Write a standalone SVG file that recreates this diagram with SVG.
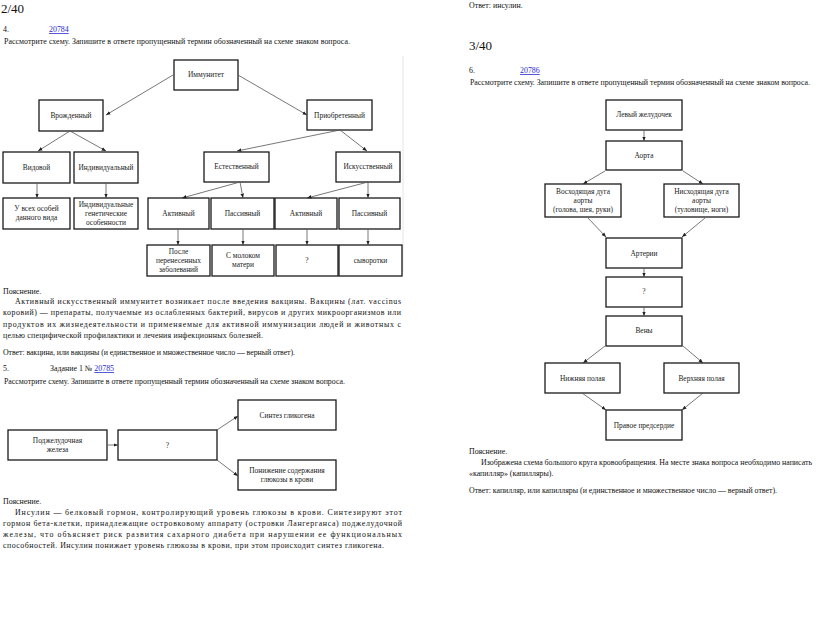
<svg xmlns="http://www.w3.org/2000/svg" width="816" height="629" viewBox="0 0 816 629">
<style>
text{font-family:"Liberation Serif","DejaVu Serif",serif;fill:#111}
.p{font-size:7.9px}
.h{font-size:13px}
.lnk{fill:#2a2ad0;text-decoration:underline}
.n rect{fill:#fff;stroke:#1a1a1a;stroke-width:1.3}
.n text{font-size:7.4px;text-anchor:middle;fill:#222}
.c path{fill:none;stroke:#555;stroke-width:0.8;marker-end:url(#ah)}
</style>
<defs>
<marker id="ah" viewBox="0 0 8 8" refX="8" refY="4" markerWidth="4.5" markerHeight="4.5" markerUnits="userSpaceOnUse" orient="auto"><path d="M0,0.8 L8,4 L0,7.2 z" fill="#222"/></marker>
</defs>
<rect width="816" height="629" fill="#fff"/>

<!-- Left column text -->
<text class="h" x="1" y="13">2/40</text>
<text class="p" x="3" y="32">4.</text>
<text class="p lnk" x="49" y="32">20784</text>
<text class="p" x="4" y="44" textLength="346" lengthAdjust="spacing">Рассмотрите схему. Запишите в ответе пропущенный термин обозначенный на схеме знаком вопроса.</text>
<line x1="403" y1="56" x2="403" y2="272" stroke="#e6e6e6" stroke-width="1"/>

<!-- Diagram 1 -->
<g id="n-immunitet" class="n"><rect x="174" y="60" width="64" height="30"/><text x="206" y="77">Иммунитет</text></g>
<g id="n-vrozhd" class="n"><rect x="39" y="100" width="64" height="31"/><text x="71" y="118">Врожденный</text></g>
<g id="n-priobr" class="n"><rect x="307" y="100" width="65" height="30"/><text x="339.5" y="118">Приобретенный</text></g>
<g id="n-vidovoy" class="n"><rect x="3" y="152" width="67" height="31"/><text x="36.5" y="170">Видовой</text></g>
<g id="n-individ" class="n"><rect x="74" y="152" width="64" height="31"/><text x="106" y="170">Индивидуальный</text></g>
<g id="n-estestv" class="n"><rect x="204" y="152" width="65" height="30"/><text x="236.5" y="169">Естественный</text></g>
<g id="n-iskusst" class="n"><rect x="336" y="152" width="64" height="30"/><text x="368" y="169">Искусственный</text></g>
<g id="n-vse" class="n"><rect x="3" y="198" width="67" height="31"/><text x="36.5" y="211">У всех особей</text><text x="36.5" y="220">данного вида</text></g>
<g id="n-genet" class="n"><rect x="74" y="198" width="64" height="31"/><text x="106" y="207">Индивидуальные</text><text x="106" y="216">генетические</text><text x="106" y="225">особенности</text></g>
<g id="n-akt1" class="n"><rect x="148" y="198" width="61" height="31"/><text x="178.5" y="216">Активный</text></g>
<g id="n-pas1" class="n"><rect x="211" y="198" width="63" height="31"/><text x="242.5" y="216">Пассивный</text></g>
<g id="n-akt2" class="n"><rect x="275" y="198" width="62" height="31"/><text x="306" y="216">Активный</text></g>
<g id="n-pas2" class="n"><rect x="339" y="198" width="61" height="31"/><text x="369.5" y="216">Пассивный</text></g>
<g id="n-posle" class="n"><rect x="147" y="245" width="63" height="31"/><text x="178.5" y="254">После</text><text x="178.5" y="263">перенесенных</text><text x="178.5" y="272">заболеваний</text></g>
<g id="n-moloko" class="n"><rect x="212" y="245" width="62" height="31"/><text x="243" y="258">С молоком</text><text x="243" y="267">матери</text></g>
<g id="n-q1" class="n"><rect x="276" y="245" width="62" height="31"/><text x="307" y="263">?</text></g>
<g id="n-syv" class="n"><rect x="339" y="245" width="63" height="31"/><text x="370.5" y="263">сыворотки</text></g>

<text class="p" x="3" y="294">Пояснение.</text>
<text class="p" x="15" y="304" textLength="386" lengthAdjust="spacing">Активный искусственный иммунитет возникает после введения вакцины. Вакцины (лат. vaccinus</text>
<text class="p" x="3" y="315" textLength="398" lengthAdjust="spacing">коровий) — препараты, получаемые из ослабленных бактерий, вирусов и других микроорганизмов или</text>
<text class="p" x="3" y="327" textLength="398" lengthAdjust="spacing">продуктов их жизнедеятельности и применяемые для активной иммунизации людей и животных с</text>
<text class="p" x="3" y="338" textLength="260" lengthAdjust="spacing">целью специфической профилактики и лечения инфекционных болезней.</text>
<text class="p" x="3" y="355" textLength="292" lengthAdjust="spacing">Ответ: вакцина, или вакцины (и единственное и множественное число — верный ответ).</text>

<text class="p" x="3" y="371">5.</text>
<text class="p" x="50" y="371">Задание 1 № <tspan class="lnk">20785</tspan></text>
<text class="p" x="4" y="384" textLength="341" lengthAdjust="spacing">Рассмотрите схему. Запишите в ответе пропущенный термин обозначенный на схеме знаком вопроса.</text>

<!-- Diagram 2 -->
<g id="n-sintez" class="n"><rect x="238" y="400" width="98" height="30"/><text x="287" y="418">Синтез гликогена</text></g>
<g id="n-podzh" class="n"><rect x="8" y="430" width="99" height="30"/><text x="57.5" y="443">Поджелудочная</text><text x="57.5" y="452">железа</text></g>
<g id="n-q2" class="n"><rect x="118" y="430" width="99" height="30"/><text x="167.5" y="448">?</text></g>
<g id="n-ponizh" class="n"><rect x="238" y="460" width="98" height="30"/><text x="287" y="473">Понижение содержания</text><text x="287" y="482">глюкозы в крови</text></g>

<text class="p" x="3" y="504">Пояснение.</text>
<text class="p" x="15" y="515" textLength="387" lengthAdjust="spacing">Инсулин — белковый гормон, контролирующий уровень глюкозы в крови. Синтезируют этот</text>
<text class="p" x="3" y="526" textLength="399" lengthAdjust="spacing">гормон бета-клетки, принадлежащие островковому аппарату (островки Лангерганса) поджелудочной</text>
<text class="p" x="3" y="537" textLength="399" lengthAdjust="spacing">железы, что объясняет риск развития сахарного диабета при нарушении ее функциональных</text>
<text class="p" x="3" y="548" textLength="381" lengthAdjust="spacing">способностей. Инсулин понижает уровень глюкозы в крови, при этом происходит синтез гликогена.</text>

<!-- Right column text -->
<text class="p" x="469" y="8">Ответ: инсулин.</text>
<text class="h" x="469" y="50">3/40</text>
<text class="p" x="469" y="73">6.</text>
<text class="p lnk" x="520" y="73">20786</text>
<text class="p" x="470" y="85" textLength="340" lengthAdjust="spacing">Рассмотрите схему. Запишите в ответе пропущенный термин обозначенный на схеме знаком вопроса.</text>

<!-- Diagram 3 -->
<g id="n-levyi" class="n"><rect x="606" y="100" width="76" height="30"/><text x="644" y="117">Левый желудочек</text></g>
<g id="n-aorta" class="n"><rect x="606" y="141" width="76" height="29"/><text x="644" y="158">Аорта</text></g>
<g id="n-voskh" class="n"><rect x="545" y="184" width="76" height="33"/><text x="583" y="194">Восходящая дуга</text><text x="583" y="203">аорты</text><text x="583" y="212">(голова, шея, руки)</text></g>
<g id="n-niskh" class="n"><rect x="664" y="184" width="75" height="33"/><text x="701.5" y="194">Нисходящая дуга</text><text x="701.5" y="203">аорты</text><text x="701.5" y="212">(туловище, ноги)</text></g>
<g id="n-arterii" class="n"><rect x="606" y="238" width="76" height="30"/><text x="644" y="256">Артерии</text></g>
<g id="n-q3" class="n"><rect x="606" y="277" width="76" height="30"/><text x="644" y="294">?</text></g>
<g id="n-veny" class="n"><rect x="606" y="316" width="76" height="30"/><text x="644" y="333">Вены</text></g>
<g id="n-nizh" class="n"><rect x="545" y="363" width="75" height="30"/><text x="582.5" y="381">Нижняя полая</text></g>
<g id="n-verkh" class="n"><rect x="664" y="363" width="75" height="30"/><text x="701.5" y="381">Верхняя полая</text></g>
<g id="n-pravoe" class="n"><rect x="606" y="410" width="76" height="30"/><text x="644" y="428">Правое предсердие</text></g>

<text class="p" x="469" y="454">Пояснение.</text>
<text class="p" x="481" y="465" textLength="331" lengthAdjust="spacing">Изображена схема большого круга кровообращения. На месте знака вопроса необходимо написать</text>
<text class="p" x="469" y="476">«капилляр» (капилляры).</text>
<text class="p" x="469" y="493" textLength="308" lengthAdjust="spacing">Ответ: капилляр, или капилляры (и единственное и множественное число — верный ответ).</text>

<!-- Connectors -->
<g id="connectors" class="c">
<path d="M173,75 L106,115"/>
<path d="M238,75 L307,115"/>
<path d="M70,131 L38,151"/>
<path d="M70,131 L106,151"/>
<path d="M340,130 L237,151"/>
<path d="M340,130 L367,151"/>
<path d="M37,183 L37,198"/>
<path d="M106,183 L106,198"/>
<path d="M240,182 L182,198"/>
<path d="M240,182 L243,198"/>
<path d="M368,182 L307,198"/>
<path d="M368,182 L368,198"/>
<path d="M178,229 L178,245"/>
<path d="M243,229 L243,245"/>
<path d="M307,229 L307,245"/>
<path d="M368,229 L368,245"/>
<path d="M107,445 L118,445"/>
<path d="M217,430 L238,416"/>
<path d="M217,460 L238,476"/>
<path d="M644,130 L644,141"/>
<path d="M605,171 L583,184"/>
<path d="M683,171 L703,184"/>
<path d="M588,218 L606,237"/>
<path d="M705,218 L682,237"/>
<path d="M644,268 L644,277"/>
<path d="M644,307 L644,316"/>
<path d="M605,346 L583,363"/>
<path d="M683,346 L703,363"/>
<path d="M582,393 L606,410"/>
<path d="M703,393 L682,410"/>
</g>
</svg>
